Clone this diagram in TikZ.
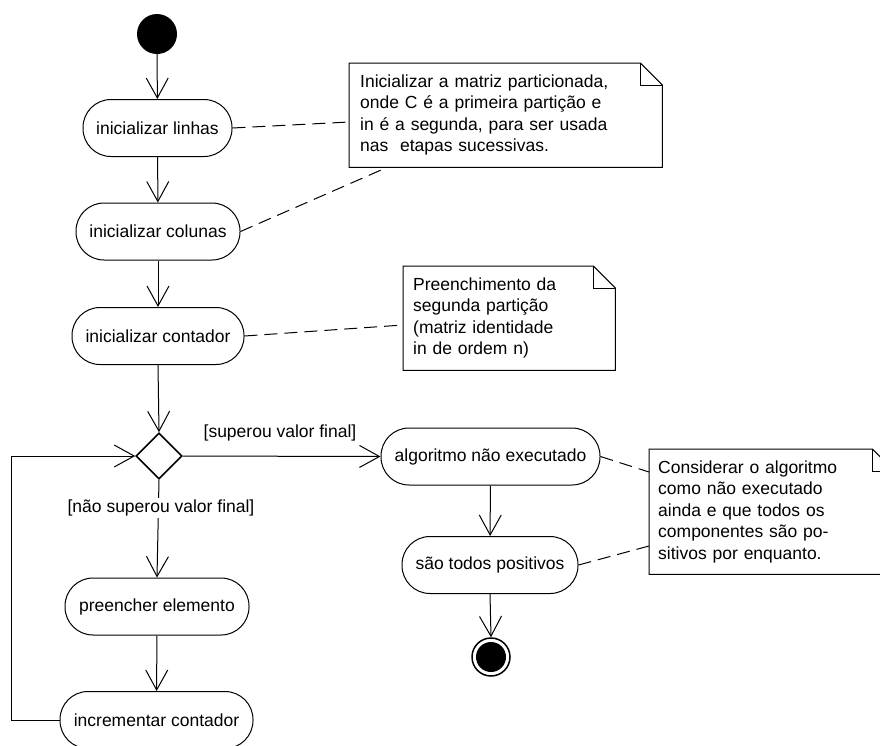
\documentclass[tikz,border=0pt]{standalone}
\usepackage{fontspec}
\setmainfont{Liberation Sans}
\usetikzlibrary{shapes.geometric,arrows.meta,calc}

\begin{document}
\begin{tikzpicture}[x=1pt,y=-1pt,
  font=\fontsize{17.5}{21.5}\selectfont,
  pill/.style={draw, line width=1pt, rounded corners=28pt, minimum height=57pt, inner sep=0pt},
  decision/.style={draw, line width=1.6pt, shape=diamond, minimum width=46pt, minimum height=46pt, inner sep=0pt},
  flow/.style={line width=1pt, -{Straight Barb[length=20pt,width=22pt,line width=1pt]}},
  plainline/.style={line width=1pt},
  anchorline/.style={line width=1pt, dash pattern=on 13pt off 7pt},
  notebox/.style={anchor=north west, align=left, inner ysep=0pt},
  noteline/.style={line width=1pt},
  guard/.style={inner sep=2pt}]

\useasboundingbox (0,0) rectangle (880,745);
\clip (0,0) rectangle (880,745);

% start and end states
\node (start) [circle, fill=black, minimum size=40pt, inner sep=0pt] at (157,34) {};
\node (finish) [circle, draw, line width=1.5pt, minimum size=38pt, inner sep=0pt] at (491,657) {};
\node (finishdot) [circle, fill=black, minimum size=30pt, inner sep=0pt] at (491,657) {};

% activities
\node (linhas)   [pill, minimum width=149pt] at (157.5,128) {inicializar linhas};
\node (colunas)  [pill, minimum width=164pt] at (158,231.5) {inicializar colunas};
\node (contador) [pill, minimum width=172pt] at (158,336) {inicializar contador};
\node (dec)      [decision] at (159,456) {};
\node (preencher)[pill, minimum width=184pt] at (157,606.5) {preencher elemento};
\node (incr)     [pill, minimum width=193pt] at (156.5,720) {incrementar contador};
\node (algo)     [pill, minimum width=219pt] at (490.5,456.5) {algoritmo não executado};
\node (posit)    [pill, minimum width=176pt] at (490,565) {são todos positivos};

% notes
\node (n1) [notebox, text width=291pt, inner xsep=11pt, minimum height=104pt] at (349,63)
  {Inicializar a matriz particionada,\\onde C é a primeira partição e\\in é a segunda, para ser usada\\nas\ \ etapas sucessivas.};
\node (n2) [notebox, text width=192pt, inner xsep=10pt, minimum height=104pt] at (403,266)
  {Preenchimento da\\segunda partição\\(matriz identidade\\in de ordem n)};
\node (n3) [notebox, text width=227pt, inner xsep=9pt, minimum height=125pt] at (649,449)
  {Considerar o algoritmo\\como não executado\\ainda e que todos os\\componentes são po-\\sitivos por enquanto.};

\foreach \n in {n1,n2,n3} {
  \draw[noteline] (\n.north west) -- ([xshift=-22pt]\n.north east)
    -- ([yshift=-22pt]\n.north east) -- (\n.south east) -- (\n.south west) -- cycle;
  \draw[noteline] ([xshift=-22pt]\n.north east) |- ([yshift=-22pt]\n.north east);
}

% control flow
\draw[flow] (start) -- (linhas);
\draw[flow] (linhas) -- (colunas);
\draw[flow] (colunas) -- (contador);
\draw[flow] (contador.south) -- (dec.north);
\draw[flow] (dec.east) -- (algo.west);
\draw[flow] (dec.south) -- (preencher.north);
\draw[flow] (preencher) -- (incr);
\draw[flow] (algo) -- (posit);
\draw[flow] (posit.south) -- (finish.north);
\coordinate (loopbot) at (11,720);
\coordinate (looptop) at (11,456);
\draw[flow] (incr.west) -- (loopbot) -- (looptop) -- (dec.west);

% guards
\node (gyes) [guard] at (280,433) {[superou valor final]};
\node (gno)  [guard, fill=white] at (161,508) {[não superou valor final]};

% note anchors
\draw[anchorline] (linhas.east) -- ($(n1.north west)+(0,59)$);
\draw[anchorline] (colunas.east) -- ($(n1.south west)+(38,0)$);
\draw[anchorline] (contador.east) -- ($(n2.north west)+(0,59)$);
\draw[anchorline] (algo.east) -- ($(n3.north west)+(0,23)$);
\draw[anchorline] (posit.east) -- ($(n3.north west)+(0,97)$);
\end{tikzpicture}
\end{document}
